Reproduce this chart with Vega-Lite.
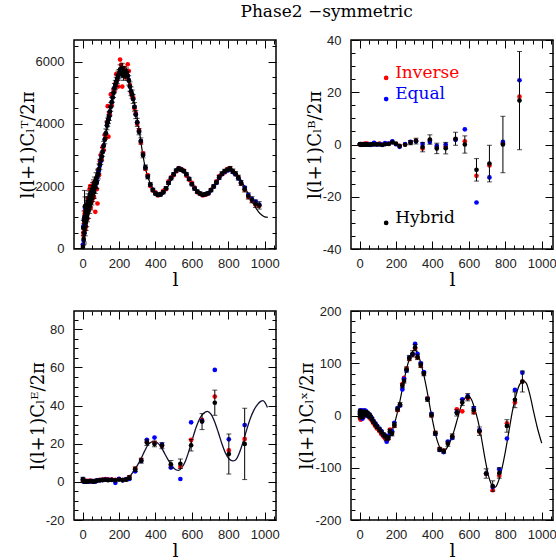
{
  "$schema": "https://vega.github.io/schema/vega-lite/v6.json",
  "padding": {"left": 18, "top": 3, "right": 2, "bottom": 0},
  "title": {"text": "Phase2  −symmetric", "font": "DejaVu Serif", "fontSize": 17, "fontWeight": "normal", "color": "#000", "anchor": "middle", "dx": 39, "offset": 12},
  "config": {
    "view": {"stroke": "#000", "strokeWidth": 1.5},
    "axis": {"domain": false, "grid": false, "tickColor": "#000", "tickWidth": 1, "labelFont": "Liberation Sans", "labelFontSize": 13, "labelColor": "#222", "titleFont": "DejaVu Serif", "titleFontWeight": "normal", "titleColor": "#000", "labelOverlap": false, "labelFlush": false, "labelBound": false},
    "axisX": {"titleFontSize": 19, "labelPadding": 16, "titlePadding": -4},
    "axisY": {"titleFontSize": 18, "labelPadding": 18, "titlePadding": -2}
  },
  "datasets": {
    "tt": [
      {"l":2,"inv":100,"eq":120,"hyb":40},
      {"l":4,"inv":500,"eq":700,"hyb":650,"err":250},
      {"l":6,"inv":420,"eq":250,"hyb":300,"err":200},
      {"l":8,"inv":800,"eq":950,"hyb":900,"err":300},
      {"l":10,"inv":650,"eq":480,"hyb":500,"err":300},
      {"l":11,"inv":1100,"eq":1000,"hyb":1000,"err":860},
      {"l":13,"inv":1200,"eq":1300,"hyb":1350,"err":300},
      {"l":15,"inv":600,"eq":750,"hyb":700,"err":300},
      {"l":17,"inv":1250,"eq":1050,"hyb":1100,"err":300},
      {"l":19,"inv":700,"eq":900,"hyb":850,"err":280},
      {"l":21,"inv":1400,"eq":1200,"hyb":1250,"err":280},
      {"l":23,"inv":1050,"eq":1000,"hyb":950,"err":260},
      {"l":25,"inv":1250,"eq":1350,"hyb":1400,"err":260},
      {"l":27,"inv":950,"eq":1150,"hyb":1100,"err":250},
      {"l":30,"inv":1600,"eq":1450,"hyb":1500,"err":250},
      {"l":33,"inv":1350,"eq":1250,"hyb":1200,"err":240},
      {"l":36,"inv":1500,"eq":1550,"hyb":1600,"err":240},
      {"l":39,"inv":1900,"eq":1400,"hyb":1350,"err":230},
      {"l":42,"inv":2000,"eq":1750,"hyb":1700,"err":230},
      {"l":45,"inv":1300,"eq":1500,"hyb":1450,"err":220},
      {"l":48,"inv":1700,"eq":1750,"hyb":1800,"err":220},
      {"l":51,"inv":1500,"eq":1650,"hyb":1600,"err":210},
      {"l":54,"inv":2000,"eq":1850,"hyb":1900,"err":210},
      {"l":57,"inv":1600,"eq":1750,"hyb":1700,"err":200},
      {"l":60,"inv":2100,"eq":1950,"hyb":2000,"err":200},
      {"l":63,"inv":1650,"eq":1850,"hyb":1800,"err":200},
      {"l":66,"inv":1900,"eq":2050,"hyb":2100,"err":190},
      {"l":70,"inv":1170,"eq":2000,"hyb":1950,"err":190},
      {"l":74,"inv":2200,"eq":2200,"hyb":2250,"err":180},
      {"l":78,"inv":1900,"eq":2150,"hyb":2100,"err":180},
      {"l":82,"inv":1440,"eq":2300,"hyb":2350,"err":170},
      {"l":86,"inv":2500,"eq":2450,"hyb":2400,"err":170},
      {"l":90,"inv":2350,"eq":2500,"hyb":2550,"err":160},
      {"l":95,"inv":2800,"eq":2650,"hyb":2700,"err":160},
      {"l":100,"inv":3000,"eq":2800,"hyb":2850,"err":150},
      {"l":105,"inv":2850,"eq":2950,"hyb":2950,"err":140},
      {"l":110,"inv":3250,"eq":3100,"hyb":3100,"err":140},
      {"l":116,"inv":3150,"eq":3300,"hyb":3300,"err":140},
      {"l":122,"inv":3650,"eq":3500,"hyb":3500,"err":140},
      {"l":128,"inv":3550,"eq":3700,"hyb":3700,"err":140},
      {"l":134,"inv":4050,"eq":3950,"hyb":3950,"err":140},
      {"l":138,"inv":4570,"eq":4050,"hyb":4050,"err":140},
      {"l":142,"inv":3590,"eq":4150,"hyb":4150,"err":140},
      {"l":146,"inv":4350,"eq":4250,"hyb":4250,"err":140},
      {"l":150,"inv":4300,"eq":4400,"hyb":4400,"err":140},
      {"l":155,"inv":4950,"eq":4550,"hyb":4550,"err":140},
      {"l":160,"inv":4600,"eq":4700,"hyb":4700,"err":150},
      {"l":165,"inv":4950,"eq":4850,"hyb":4850,"err":150},
      {"l":170,"inv":5100,"eq":5000,"hyb":5000,"err":150},
      {"l":175,"inv":5050,"eq":5150,"hyb":5150,"err":150},
      {"l":180,"inv":5300,"eq":5250,"hyb":5250,"err":150},
      {"l":185,"inv":5600,"eq":5350,"hyb":5350,"err":150},
      {"l":190,"inv":5400,"eq":5450,"hyb":5450,"err":150},
      {"l":195,"inv":5200,"eq":5550,"hyb":5550,"err":150},
      {"l":200,"inv":5650,"eq":5600,"hyb":5600,"err":150},
      {"l":206,"inv":6070,"eq":5750,"hyb":5750,"err":150},
      {"l":212,"inv":5900,"eq":5650,"hyb":5650,"err":150},
      {"l":218,"inv":5200,"eq":5800,"hyb":5800,"err":150},
      {"l":224,"inv":5600,"eq":5550,"hyb":5550,"err":150},
      {"l":230,"inv":5800,"eq":5700,"hyb":5700,"err":150},
      {"l":236,"inv":5500,"eq":5600,"hyb":5600,"err":150},
      {"l":242,"inv":5600,"eq":5650,"hyb":5650,"err":150},
      {"l":248,"inv":5920,"eq":5550,"hyb":5550,"err":150},
      {"l":254,"inv":5700,"eq":5400,"hyb":5400,"err":150},
      {"l":260,"inv":5250,"eq":5200,"hyb":5200,"err":150},
      {"l":266,"inv":5000,"eq":5050,"hyb":5050,"err":140},
      {"l":272,"inv":4900,"eq":4950,"hyb":4950,"err":140},
      {"l":278,"inv":4850,"eq":4800,"hyb":4800,"err":140},
      {"l":285,"inv":4500,"eq":4550,"hyb":4550,"err":140},
      {"l":292,"inv":4350,"eq":4300,"hyb":4300,"err":130},
      {"l":300,"inv":4000,"eq":4050,"hyb":4050,"err":130},
      {"l":310,"inv":3800,"eq":3750,"hyb":3750,"err":100},
      {"l":320,"inv":3400,"eq":3450,"hyb":3450,"err":100},
      {"l":332,"inv":3050,"eq":3000,"hyb":3000,"err":90},
      {"l":345,"inv":2550,"eq":2600,"hyb":2600,"err":80},
      {"l":358,"inv":2350,"eq":2300,"hyb":2300,"err":70},
      {"l":372,"inv":2000,"eq":2050,"hyb":2050,"err":60},
      {"l":386,"inv":1850,"eq":1880,"hyb":1880,"err":50},
      {"l":400,"inv":1800,"eq":1760,"hyb":1760,"err":50},
      {"l":414,"inv":1700,"eq":1720,"hyb":1720,"err":50},
      {"l":428,"inv":1750,"eq":1730,"hyb":1730,"err":50},
      {"l":443,"inv":1850,"eq":1800,"hyb":1800,"err":50},
      {"l":458,"inv":1900,"eq":1930,"hyb":1930,"err":50},
      {"l":472,"inv":2150,"eq":2100,"hyb":2100,"err":50},
      {"l":486,"inv":2280,"eq":2250,"hyb":2250,"err":50},
      {"l":500,"inv":2350,"eq":2380,"hyb":2380,"err":50},
      {"l":514,"inv":2470,"eq":2500,"hyb":2500,"err":50},
      {"l":528,"inv":2580,"eq":2560,"hyb":2560,"err":50},
      {"l":542,"inv":2550,"eq":2530,"hyb":2520,"err":50},
      {"l":556,"inv":2500,"eq":2480,"hyb":2480,"err":50},
      {"l":570,"inv":2330,"eq":2380,"hyb":2380,"err":50},
      {"l":585,"inv":2200,"eq":2230,"hyb":2230,"err":50},
      {"l":600,"inv":2100,"eq":2060,"hyb":2060,"err":50},
      {"l":615,"inv":1950,"eq":1920,"hyb":1920,"err":50},
      {"l":630,"inv":1800,"eq":1820,"hyb":1820,"err":50},
      {"l":645,"inv":1750,"eq":1760,"hyb":1760,"err":50},
      {"l":660,"inv":1700,"eq":1720,"hyb":1720,"err":50},
      {"l":675,"inv":1720,"eq":1740,"hyb":1740,"err":50},
      {"l":690,"inv":1760,"eq":1770,"hyb":1770,"err":50},
      {"l":705,"inv":1880,"eq":1860,"hyb":1870,"err":50},
      {"l":720,"inv":2000,"eq":1980,"hyb":1990,"err":50},
      {"l":735,"inv":2150,"eq":2100,"hyb":2120,"err":50},
      {"l":750,"inv":2320,"eq":2260,"hyb":2280,"err":60},
      {"l":765,"inv":2380,"eq":2380,"hyb":2400,"err":60},
      {"l":780,"inv":2440,"eq":2460,"hyb":2480,"err":60},
      {"l":795,"inv":2550,"eq":2500,"hyb":2520,"err":60},
      {"l":810,"inv":2580,"eq":2540,"hyb":2560,"err":70},
      {"l":825,"inv":2470,"eq":2450,"hyb":2480,"err":70},
      {"l":840,"inv":2380,"eq":2380,"hyb":2400,"err":70},
      {"l":855,"inv":2290,"eq":2250,"hyb":2270,"err":80},
      {"l":870,"inv":2080,"eq":2120,"hyb":2100,"err":80},
      {"l":890,"inv":1880,"eq":1950,"hyb":1900,"err":90},
      {"l":910,"inv":1650,"eq":1720,"hyb":1680,"err":100},
      {"l":930,"inv":1520,"eq":1580,"hyb":1560,"err":100},
      {"l":950,"inv":1400,"eq":1500,"hyb":1430,"err":120},
      {"l":970,"inv":1360,"eq":1400,"hyb":1380,"err":120}
    ],
    "ttTheory": [
      {"l":2,"v":300},{"l":13,"v":450},{"l":31,"v":1100},{"l":50,"v":1650},{"l":77,"v":2200},{"l":96,"v":2720},{"l":114,"v":3250},{"l":132,"v":3800},{"l":145,"v":4200},{"l":160,"v":4700},{"l":178,"v":5200},{"l":197,"v":5600},{"l":215,"v":5720},{"l":235,"v":5680},{"l":250,"v":5500},{"l":265,"v":5150},{"l":280,"v":4800},{"l":298,"v":4250},{"l":316,"v":3600},{"l":331,"v":3000},{"l":348,"v":2500},{"l":366,"v":2170},{"l":384,"v":1920},{"l":405,"v":1760},{"l":425,"v":1720},{"l":445,"v":1770},{"l":465,"v":1950},{"l":482,"v":2150},{"l":500,"v":2350},{"l":515,"v":2500},{"l":530,"v":2570},{"l":545,"v":2550},{"l":560,"v":2470},{"l":575,"v":2340},{"l":590,"v":2200},{"l":610,"v":2000},{"l":630,"v":1850},{"l":650,"v":1760},{"l":670,"v":1730},{"l":690,"v":1760},{"l":710,"v":1870},{"l":730,"v":2040},{"l":750,"v":2220},{"l":770,"v":2380},{"l":790,"v":2510},{"l":810,"v":2560},{"l":825,"v":2520},{"l":845,"v":2410},{"l":865,"v":2240},{"l":885,"v":2030},{"l":905,"v":1800},{"l":925,"v":1560},{"l":945,"v":1350},{"l":965,"v":1180},{"l":985,"v":1060},{"l":1000,"v":1010},{"l":1017,"v":995}
    ],
    "bb": [
      {"l":2,"inv":0.1,"eq":0.2,"hyb":0,"err":0.4},
      {"l":5,"inv":0.1,"eq":0,"hyb":0.2,"err":0.4},
      {"l":8,"inv":-0.2,"eq":0.1,"hyb":0},
      {"l":12,"inv":0.2,"eq":0,"hyb":0.1},
      {"l":16,"inv":0,"eq":-0.1,"hyb":0},
      {"l":20,"inv":0.2,"eq":0.1,"hyb":-0.1},
      {"l":25,"inv":0,"eq":0,"hyb":0.1},
      {"l":30,"inv":0.3,"eq":0,"hyb":0},
      {"l":36,"inv":0.1,"eq":0.2,"hyb":0.1},
      {"l":42,"inv":0.3,"eq":0,"hyb":0},
      {"l":50,"inv":0,"eq":0.1,"hyb":-0.1},
      {"l":60,"inv":0.2,"eq":-0.2,"hyb":0},
      {"l":70,"inv":0,"eq":0.2,"hyb":0.1},
      {"l":80,"inv":0.4,"eq":0.6,"hyb":0},
      {"l":95,"inv":0.2,"eq":-0.1,"hyb":0.1},
      {"l":110,"inv":0.3,"eq":0.2,"hyb":0},
      {"l":125,"inv":0,"eq":-0.1,"hyb":-0.2},
      {"l":140,"inv":0.2,"eq":0.5,"hyb":0.1},
      {"l":160,"inv":0.3,"eq":0.3,"hyb":0.2},
      {"l":180,"inv":1.0,"eq":1.2,"hyb":0.8},
      {"l":200,"inv":0.2,"eq":0.1,"hyb":0.3},
      {"l":220,"inv":-0.5,"eq":-0.9,"hyb":-0.6},
      {"l":250,"inv":0,"eq":0.2,"hyb":-0.1},
      {"l":280,"inv":0.9,"eq":1.0,"hyb":0.7,"err":0.8},
      {"l":310,"inv":1.5,"eq":1.2,"hyb":1.3,"err":1.1},
      {"l":346,"inv":-1.5,"eq":0.2,"hyb":-1.0,"err":1.8},
      {"l":386,"inv":1.5,"eq":1.0,"hyb":1.9,"err":1.8},
      {"l":424,"inv":-1.0,"eq":-0.5,"hyb":-1.5,"err":2.0},
      {"l":473,"inv":-0.8,"eq":0,"hyb":-1.4,"err":2.2},
      {"l":527,"inv":2.0,"eq":1.8,"hyb":2.2,"err":2.5},
      {"l":578,"inv":1.2,"eq":5.8,"hyb":0,"err":3.3},
      {"l":642,"inv":-12,"eq":-22.2,"hyb":-9.7,"err":4.3},
      {"l":713,"inv":-8,"eq":-12.6,"hyb":-7.3,"err":7},
      {"l":787,"inv":0.5,"eq":1,"hyb":0,"err":10.8},
      {"l":878,"inv":18.3,"eq":24.6,"hyb":16.8,"err":18.8}
    ],
    "legend": [
      {"l":146,"v":25.5,"name":"Inverse"},
      {"l":146,"v":17.4,"name":"Equal"},
      {"l":146,"v":-30,"name":"Hybrid"}
    ],
    "ee": [
      {"l":2,"inv":0.8,"eq":1.5,"hyb":1.2,"err":1.2},
      {"l":5,"inv":0.5,"eq":0.2,"hyb":0.3,"err":0.6},
      {"l":8,"inv":0.4,"eq":0.3,"hyb":0.6},
      {"l":12,"inv":0.3,"eq":0.5,"hyb":0.2},
      {"l":16,"inv":0.2,"eq":0.1,"hyb":0.4},
      {"l":20,"inv":0.3,"eq":0.4,"hyb":0.1},
      {"l":25,"inv":0.5,"eq":0.2,"hyb":0.3},
      {"l":30,"inv":0.1,"eq":0.3,"hyb":0.2},
      {"l":40,"inv":0.6,"eq":0.2,"hyb":0.4},
      {"l":50,"inv":0.2,"eq":0.5,"hyb":0.3},
      {"l":60,"inv":0.4,"eq":0.3,"hyb":0.1},
      {"l":70,"inv":0.3,"eq":0.1,"hyb":0.5},
      {"l":80,"inv":0.8,"eq":0.7,"hyb":0.6},
      {"l":95,"inv":1.0,"eq":0.9,"hyb":0.8},
      {"l":110,"inv":1.2,"eq":0.9,"hyb":1.0},
      {"l":125,"inv":1.4,"eq":1.2,"hyb":1.1},
      {"l":140,"inv":1.3,"eq":1.0,"hyb":0.9},
      {"l":160,"inv":1.2,"eq":1.1,"hyb":1.0},
      {"l":180,"inv":1.0,"eq":-0.5,"hyb":0.8},
      {"l":200,"inv":1.5,"eq":1.6,"hyb":1.2},
      {"l":220,"inv":1.0,"eq":0.8,"hyb":0.9},
      {"l":240,"inv":1.3,"eq":1.5,"hyb":1.2,"err":0.8},
      {"l":257,"inv":2.5,"eq":1.5,"hyb":2.2,"err":1},
      {"l":289,"inv":7.0,"eq":5.5,"hyb":6.6,"err":1.2},
      {"l":322,"inv":11.5,"eq":11.0,"hyb":11.1,"err":1.3},
      {"l":353,"inv":21.0,"eq":22.0,"hyb":20.6,"err":1.5},
      {"l":395,"inv":20.5,"eq":23.2,"hyb":19.9,"err":1.5},
      {"l":436,"inv":19.0,"eq":19.5,"hyb":19.0,"err":1.6},
      {"l":485,"inv":8.5,"eq":7.5,"hyb":9.2,"err":2},
      {"l":537,"inv":8.0,"eq":1.5,"hyb":9.5,"err":2.5},
      {"l":596,"inv":22.0,"eq":31.2,"hyb":19.2,"err":3},
      {"l":656,"inv":32.5,"eq":32.0,"hyb":31.6,"err":4.2},
      {"l":726,"inv":44.7,"eq":58.7,"hyb":41.5,"err":6.6},
      {"l":803,"inv":16.5,"eq":22.3,"hyb":14.6,"err":10.5},
      {"l":890,"inv":22.5,"eq":29.8,"hyb":19.9,"err":18.7}
    ],
    "eeTheory": [
      {"l":2,"v":0.3},{"l":100,"v":0.5},{"l":200,"v":0.8},{"l":240,"v":1.5},{"l":260,"v":3},{"l":280,"v":5.5},{"l":300,"v":8.5},{"l":320,"v":12},{"l":340,"v":16},{"l":360,"v":19.5},{"l":380,"v":21},{"l":395,"v":21.2},{"l":410,"v":20.5},{"l":430,"v":18.5},{"l":450,"v":15},{"l":470,"v":11.5},{"l":490,"v":8.5},{"l":510,"v":6.5},{"l":528,"v":6},{"l":545,"v":7.5},{"l":565,"v":11},{"l":585,"v":16.5},{"l":605,"v":23},{"l":625,"v":29},{"l":645,"v":33.5},{"l":665,"v":36},{"l":685,"v":37},{"l":705,"v":35.5},{"l":725,"v":31.5},{"l":745,"v":26},{"l":765,"v":20},{"l":785,"v":15},{"l":805,"v":12},{"l":825,"v":11},{"l":840,"v":11.5},{"l":860,"v":15},{"l":880,"v":20.5},{"l":900,"v":27},{"l":920,"v":33},{"l":940,"v":37.5},{"l":960,"v":40.5},{"l":980,"v":42.3},{"l":990,"v":42.6},{"l":1000,"v":41.8},{"l":1015,"v":39}
    ],
    "te": [
      {"l":2,"inv":-5,"eq":5,"hyb":2,"err":5},
      {"l":4,"inv":3,"eq":10,"hyb":8,"err":4},
      {"l":6,"inv":-8,"eq":0,"hyb":-3,"err":4},
      {"l":8,"inv":10,"eq":3,"hyb":5,"err":4},
      {"l":10,"inv":-4,"eq":6,"hyb":0,"err":4},
      {"l":13,"inv":2,"eq":9,"hyb":6,"err":3},
      {"l":16,"inv":4,"eq":-6,"hyb":-2,"err":3},
      {"l":19,"inv":9,"eq":1,"hyb":4,"err":3},
      {"l":22,"inv":-3,"eq":5,"hyb":1,"err":3},
      {"l":26,"inv":3,"eq":10,"hyb":7,"err":3},
      {"l":30,"inv":8,"eq":0,"hyb":3,"err":3},
      {"l":34,"inv":2,"eq":9,"hyb":6,"err":3},
      {"l":38,"inv":5,"eq":4,"hyb":2,"err":3},
      {"l":43,"inv":1,"eq":3,"hyb":5,"err":3},
      {"l":48,"inv":3,"eq":-2,"hyb":0,"err":3},
      {"l":54,"inv":-4,"eq":2,"hyb":1,"err":3},
      {"l":60,"inv":-6,"eq":-1,"hyb":-3,"err":3},
      {"l":68,"inv":-10,"eq":-5,"hyb":-7,"err":3},
      {"l":76,"inv":-15,"eq":-10,"hyb":-12,"err":3},
      {"l":86,"inv":-20,"eq":-15,"hyb":-17,"err":3},
      {"l":96,"inv":-25,"eq":-20,"hyb":-22,"err":3},
      {"l":109,"inv":-30,"eq":-25,"hyb":-27,"err":3},
      {"l":120,"inv":-36,"eq":-30,"hyb":-32,"err":3},
      {"l":131,"inv":-40,"eq":-38,"hyb":-36,"err":3},
      {"l":140,"inv":-44,"eq":-38,"hyb":-40,"err":3},
      {"l":149,"inv":-48,"eq":-50,"hyb":-44,"err":4},
      {"l":158,"inv":-45,"eq":-40,"hyb":-42,"err":4},
      {"l":167,"inv":-27,"eq":-33,"hyb":-30,"err":4},
      {"l":178,"inv":-32,"eq":-30,"hyb":-35,"err":4},
      {"l":191,"inv":-20,"eq":-14,"hyb":-18,"err":5},
      {"l":209,"inv":10,"eq":14,"hyb":12,"err":4},
      {"l":222,"inv":20,"eq":19,"hyb":21,"err":4},
      {"l":235,"inv":60,"eq":50,"hyb":57,"err":4},
      {"l":244,"inv":72,"eq":70,"hyb":66,"err":4},
      {"l":258,"inv":90,"eq":86,"hyb":88,"err":5},
      {"l":273,"inv":108,"eq":111,"hyb":110,"err":5},
      {"l":291,"inv":116,"eq":117,"hyb":118,"err":6},
      {"l":305,"inv":128,"eq":137,"hyb":130,"err":6},
      {"l":318,"inv":111,"eq":118,"hyb":112,"err":5},
      {"l":336,"inv":95,"eq":100,"hyb":97,"err":5},
      {"l":353,"inv":80,"eq":83,"hyb":80,"err":4},
      {"l":373,"inv":33,"eq":32,"hyb":31,"err":4},
      {"l":395,"inv":0,"eq":3,"hyb":1,"err":4},
      {"l":416,"inv":-33,"eq":-35,"hyb":-34,"err":4},
      {"l":440,"inv":-64,"eq":-66,"hyb":-65,"err":4},
      {"l":462,"inv":-67,"eq":-70,"hyb":-68,"err":4},
      {"l":485,"inv":-52,"eq":-50,"hyb":-54,"err":5},
      {"l":509,"inv":-40,"eq":-43,"hyb":-40,"err":5},
      {"l":534,"inv":12,"eq":6,"hyb":5,"err":6},
      {"l":564,"inv":8,"eq":31,"hyb":25,"err":6},
      {"l":594,"inv":33,"eq":37,"hyb":35,"err":7},
      {"l":627,"inv":6,"eq":14,"hyb":10,"err":7},
      {"l":658,"inv":-31,"eq":-28,"hyb":-30,"err":8},
      {"l":695,"inv":-112,"eq":-111,"hyb":-111,"err":9},
      {"l":731,"inv":-143,"eq":-137,"hyb":-135,"err":10},
      {"l":767,"inv":-115,"eq":-103,"hyb":-110,"err":10},
      {"l":809,"inv":-15,"eq":-44,"hyb":-20,"err":12},
      {"l":853,"inv":25,"eq":49,"hyb":30,"err":15},
      {"l":894,"inv":65,"eq":82,"hyb":65,"err":20}
    ],
    "teTheory": [
      {"l":2,"v":0},{"l":20,"v":3},{"l":40,"v":2},{"l":60,"v":-3},{"l":80,"v":-14},{"l":100,"v":-23},{"l":120,"v":-32},{"l":140,"v":-39},{"l":160,"v":-38},{"l":180,"v":-28},{"l":200,"v":-5},{"l":220,"v":25},{"l":240,"v":60},{"l":260,"v":92},{"l":280,"v":115},{"l":300,"v":125},{"l":315,"v":122},{"l":330,"v":108},{"l":350,"v":82},{"l":370,"v":48},{"l":390,"v":10},{"l":410,"v":-25},{"l":430,"v":-52},{"l":450,"v":-66},{"l":465,"v":-68},{"l":480,"v":-62},{"l":500,"v":-48},{"l":520,"v":-28},{"l":540,"v":-3},{"l":560,"v":20},{"l":580,"v":34},{"l":600,"v":36},{"l":615,"v":30},{"l":630,"v":15},{"l":650,"v":-10},{"l":670,"v":-45},{"l":690,"v":-85},{"l":710,"v":-118},{"l":730,"v":-135},{"l":745,"v":-137},{"l":760,"v":-128},{"l":780,"v":-104},{"l":800,"v":-70},{"l":820,"v":-30},{"l":840,"v":10},{"l":860,"v":40},{"l":880,"v":60},{"l":900,"v":66},{"l":915,"v":62},{"l":935,"v":40},{"l":955,"v":8},{"l":975,"v":-22},{"l":1000,"v":-53}
    ]
  },
  "bounds": "flush",
  "columns": 2,
  "spacing": {"row": 62, "column": 75},
  "concat": [
    {
      "width": 202, "height": 209,
      "resolve": {"axis": {"x": "independent", "y": "independent"}},
      "layer": [
        {"data": {"name": "ttTheory"}, "mark": {"type": "line", "color": "#000", "strokeWidth": 1.2, "interpolate": "monotone"},
         "encoding": {
           "x": {"field": "l", "type": "quantitative", "scale": {"domain": [-47, 1062], "nice": false, "zero": false},
                 "axis": {"orient": "bottom", "title": "l", "values": [0,50,100,150,200,250,300,350,400,450,500,550,600,650,700,750,800,850,900,950,1000,1050], "labelExpr": "datum.value % 200 === 0 ? '' + datum.value : ''", "tickSize": {"condition": {"test": "datum.value % 200 === 0", "value": -8}, "value": -4}}},
           "y": {"field": "v", "type": "quantitative", "scale": {"domain": [-25, 6700], "nice": false, "zero": false},
                 "axis": {"orient": "left", "title": "l(l+1)Cₗᵀ/2π", "values": [0,500,1000,1500,2000,2500,3000,3500,4000,4500,5000,5500,6000,6500], "labelExpr": "datum.value % 2000 === 0 ? '' + datum.value : ''", "tickSize": {"condition": {"test": "datum.value % 2000 === 0", "value": -8}, "value": -4}}}
         }},
        {"data": {"name": "tt"}, "mark": {"type": "circle", "color": "#ff0000", "size": 22, "opacity": 1},
         "encoding": {
           "x": {"field": "l", "type": "quantitative", "axis": {"orient": "top", "title": null, "labels": false, "values": [0,50,100,150,200,250,300,350,400,450,500,550,600,650,700,750,800,850,900,950,1000,1050], "tickSize": {"condition": {"test": "datum.value % 200 === 0", "value": -8}, "value": -4}}},
           "y": {"field": "inv", "type": "quantitative", "axis": {"orient": "right", "title": null, "labels": false, "values": [0,500,1000,1500,2000,2500,3000,3500,4000,4500,5000,5500,6000,6500], "tickSize": {"condition": {"test": "datum.value % 2000 === 0", "value": -8}, "value": -4}}}
         }},
        {"data": {"name": "tt"}, "mark": {"type": "circle", "color": "#0000ff", "size": 22, "opacity": 1},
         "encoding": {"x": {"field": "l", "type": "quantitative", "axis": null}, "y": {"field": "eq", "type": "quantitative", "axis": null}}},
        {"data": {"name": "tt"}, "transform": [{"filter": "isValid(datum.err)"}], "mark": {"type": "errorbar", "color": "#000", "thickness": 1, "ticks": {"size": 5, "thickness": 1}},
         "encoding": {"x": {"field": "l", "type": "quantitative", "axis": null}, "y": {"field": "hyb", "type": "quantitative", "axis": null}, "yError": {"field": "err"}}},
        {"data": {"name": "tt"}, "mark": {"type": "circle", "color": "#000", "size": 22, "opacity": 1},
         "encoding": {"x": {"field": "l", "type": "quantitative", "axis": null}, "y": {"field": "hyb", "type": "quantitative", "axis": null}}}
      ]
    },
    {
      "width": 202, "height": 209,
      "resolve": {"axis": {"x": "independent", "y": "independent"}},
      "layer": [
        {"mark": {"type": "rule", "color": "#777", "strokeWidth": 1.5},
         "encoding": {
           "x": {"datum": -47, "type": "quantitative", "scale": {"domain": [-47, 1062], "nice": false, "zero": false},
                 "axis": {"orient": "bottom", "title": "l", "values": [0,50,100,150,200,250,300,350,400,450,500,550,600,650,700,750,800,850,900,950,1000,1050], "labelExpr": "datum.value % 200 === 0 ? '' + datum.value : ''", "tickSize": {"condition": {"test": "datum.value % 200 === 0", "value": -8}, "value": -4}}},
           "x2": {"datum": 1062},
           "y": {"datum": 0, "type": "quantitative", "scale": {"domain": [-40, 40], "nice": false, "zero": false},
                 "axis": {"orient": "left", "title": "l(l+1)Cₗᴮ/2π", "values": [-40,-35,-30,-25,-20,-15,-10,-5,0,5,10,15,20,25,30,35,40], "labelExpr": "datum.value % 20 === 0 ? '' + datum.value : ''", "tickSize": {"condition": {"test": "datum.value % 20 === 0", "value": -8}, "value": -4}}}
         }},
        {"data": {"name": "bb"}, "mark": {"type": "circle", "color": "#ff0000", "size": 22, "opacity": 1},
         "encoding": {
           "x": {"field": "l", "type": "quantitative", "axis": {"orient": "top", "title": null, "labels": false, "values": [0,50,100,150,200,250,300,350,400,450,500,550,600,650,700,750,800,850,900,950,1000,1050], "tickSize": {"condition": {"test": "datum.value % 200 === 0", "value": -8}, "value": -4}}},
           "y": {"field": "inv", "type": "quantitative", "axis": {"orient": "right", "title": null, "labels": false, "values": [-40,-35,-30,-25,-20,-15,-10,-5,0,5,10,15,20,25,30,35,40], "tickSize": {"condition": {"test": "datum.value % 20 === 0", "value": -8}, "value": -4}}}
         }},
        {"data": {"name": "bb"}, "mark": {"type": "circle", "color": "#0000ff", "size": 22, "opacity": 1},
         "encoding": {"x": {"field": "l", "type": "quantitative", "axis": null}, "y": {"field": "eq", "type": "quantitative", "axis": null}}},
        {"data": {"name": "bb"}, "transform": [{"filter": "isValid(datum.err)"}], "mark": {"type": "errorbar", "color": "#000", "thickness": 1, "ticks": {"size": 5, "thickness": 1}},
         "encoding": {"x": {"field": "l", "type": "quantitative", "axis": null}, "y": {"field": "hyb", "type": "quantitative", "axis": null}, "yError": {"field": "err"}}},
        {"data": {"name": "bb"}, "mark": {"type": "circle", "color": "#000", "size": 22, "opacity": 1},
         "encoding": {"x": {"field": "l", "type": "quantitative", "axis": null}, "y": {"field": "hyb", "type": "quantitative", "axis": null}}},
        {"data": {"name": "legend"}, "mark": {"type": "circle", "size": 22, "opacity": 1},
         "encoding": {"x": {"field": "l", "type": "quantitative", "axis": null}, "y": {"field": "v", "type": "quantitative", "axis": null},
           "color": {"field": "name", "type": "nominal", "scale": {"domain": ["Inverse", "Equal", "Hybrid"], "range": ["#ff0000", "#0000ff", "#000000"]}, "legend": null}}},
        {"data": {"name": "legend"}, "mark": {"type": "text", "align": "left", "baseline": "alphabetic", "dx": 9, "font": "DejaVu Serif", "fontSize": 17},
         "encoding": {"x": {"field": "l", "type": "quantitative", "axis": null}, "y": {"field": "v", "type": "quantitative", "axis": null}, "text": {"field": "name"},
           "color": {"field": "name", "type": "nominal", "scale": {"domain": ["Inverse", "Equal", "Hybrid"], "range": ["#ff0000", "#0000ff", "#000000"]}, "legend": null}}}
      ]
    },
    {
      "width": 202, "height": 209,
      "resolve": {"axis": {"x": "independent", "y": "independent"}},
      "layer": [
        {"data": {"name": "eeTheory"}, "mark": {"type": "line", "color": "#101030", "strokeWidth": 1.3, "interpolate": "monotone"},
         "encoding": {
           "x": {"field": "l", "type": "quantitative", "scale": {"domain": [-47, 1062], "nice": false, "zero": false},
                 "axis": {"orient": "bottom", "title": "l", "values": [0,50,100,150,200,250,300,350,400,450,500,550,600,650,700,750,800,850,900,950,1000,1050], "labelExpr": "datum.value % 200 === 0 ? '' + datum.value : ''", "tickSize": {"condition": {"test": "datum.value % 200 === 0", "value": -8}, "value": -4}}},
           "y": {"field": "v", "type": "quantitative", "scale": {"domain": [-20, 89.6], "nice": false, "zero": false},
                 "axis": {"orient": "left", "title": "l(l+1)Cₗᴱ/2π", "values": [-20,-15,-10,-5,0,5,10,15,20,25,30,35,40,45,50,55,60,65,70,75,80,85], "labelExpr": "datum.value % 20 === 0 ? '' + datum.value : ''", "tickSize": {"condition": {"test": "datum.value % 20 === 0", "value": -8}, "value": -4}}}
         }},
        {"data": {"name": "ee"}, "mark": {"type": "circle", "color": "#ff0000", "size": 22, "opacity": 1},
         "encoding": {
           "x": {"field": "l", "type": "quantitative", "axis": {"orient": "top", "title": null, "labels": false, "values": [0,50,100,150,200,250,300,350,400,450,500,550,600,650,700,750,800,850,900,950,1000,1050], "tickSize": {"condition": {"test": "datum.value % 200 === 0", "value": -8}, "value": -4}}},
           "y": {"field": "inv", "type": "quantitative", "axis": {"orient": "right", "title": null, "labels": false, "values": [-20,-15,-10,-5,0,5,10,15,20,25,30,35,40,45,50,55,60,65,70,75,80,85], "tickSize": {"condition": {"test": "datum.value % 20 === 0", "value": -8}, "value": -4}}}
         }},
        {"data": {"name": "ee"}, "mark": {"type": "circle", "color": "#0000ff", "size": 22, "opacity": 1},
         "encoding": {"x": {"field": "l", "type": "quantitative", "axis": null}, "y": {"field": "eq", "type": "quantitative", "axis": null}}},
        {"data": {"name": "ee"}, "transform": [{"filter": "isValid(datum.err)"}], "mark": {"type": "errorbar", "color": "#000", "thickness": 1, "ticks": {"size": 5, "thickness": 1}},
         "encoding": {"x": {"field": "l", "type": "quantitative", "axis": null}, "y": {"field": "hyb", "type": "quantitative", "axis": null}, "yError": {"field": "err"}}},
        {"data": {"name": "ee"}, "mark": {"type": "circle", "color": "#000", "size": 22, "opacity": 1},
         "encoding": {"x": {"field": "l", "type": "quantitative", "axis": null}, "y": {"field": "hyb", "type": "quantitative", "axis": null}}}
      ]
    },
    {
      "width": 202, "height": 209,
      "resolve": {"axis": {"x": "independent", "y": "independent"}},
      "layer": [
        {"data": {"name": "teTheory"}, "mark": {"type": "line", "color": "#000", "strokeWidth": 1.2, "interpolate": "monotone"},
         "encoding": {
           "x": {"field": "l", "type": "quantitative", "scale": {"domain": [-47, 1062], "nice": false, "zero": false},
                 "axis": {"orient": "bottom", "title": "l", "values": [0,50,100,150,200,250,300,350,400,450,500,550,600,650,700,750,800,850,900,950,1000,1050], "labelExpr": "datum.value % 200 === 0 ? '' + datum.value : ''", "tickSize": {"condition": {"test": "datum.value % 200 === 0", "value": -8}, "value": -4}}},
           "y": {"field": "v", "type": "quantitative", "scale": {"domain": [-200, 200], "nice": false, "zero": false},
                 "axis": {"orient": "left", "title": "l(l+1)Cₗˣ/2π", "values": [-200,-180,-160,-140,-120,-100,-80,-60,-40,-20,0,20,40,60,80,100,120,140,160,180,200], "labelExpr": "datum.value % 100 === 0 ? '' + datum.value : ''", "tickSize": {"condition": {"test": "datum.value % 100 === 0", "value": -8}, "value": -4}}}
         }},
        {"data": {"name": "te"}, "mark": {"type": "circle", "color": "#ff0000", "size": 22, "opacity": 1},
         "encoding": {
           "x": {"field": "l", "type": "quantitative", "axis": {"orient": "top", "title": null, "labels": false, "values": [0,50,100,150,200,250,300,350,400,450,500,550,600,650,700,750,800,850,900,950,1000,1050], "tickSize": {"condition": {"test": "datum.value % 200 === 0", "value": -8}, "value": -4}}},
           "y": {"field": "inv", "type": "quantitative", "axis": {"orient": "right", "title": null, "labels": false, "values": [-200,-180,-160,-140,-120,-100,-80,-60,-40,-20,0,20,40,60,80,100,120,140,160,180,200], "tickSize": {"condition": {"test": "datum.value % 100 === 0", "value": -8}, "value": -4}}}
         }},
        {"data": {"name": "te"}, "mark": {"type": "circle", "color": "#0000ff", "size": 22, "opacity": 1},
         "encoding": {"x": {"field": "l", "type": "quantitative", "axis": null}, "y": {"field": "eq", "type": "quantitative", "axis": null}}},
        {"data": {"name": "te"}, "transform": [{"filter": "isValid(datum.err)"}], "mark": {"type": "errorbar", "color": "#000", "thickness": 1, "ticks": {"size": 5, "thickness": 1}},
         "encoding": {"x": {"field": "l", "type": "quantitative", "axis": null}, "y": {"field": "hyb", "type": "quantitative", "axis": null}, "yError": {"field": "err"}}},
        {"data": {"name": "te"}, "mark": {"type": "circle", "color": "#000", "size": 22, "opacity": 1},
         "encoding": {"x": {"field": "l", "type": "quantitative", "axis": null}, "y": {"field": "hyb", "type": "quantitative", "axis": null}}}
      ]
    }
  ]
}
